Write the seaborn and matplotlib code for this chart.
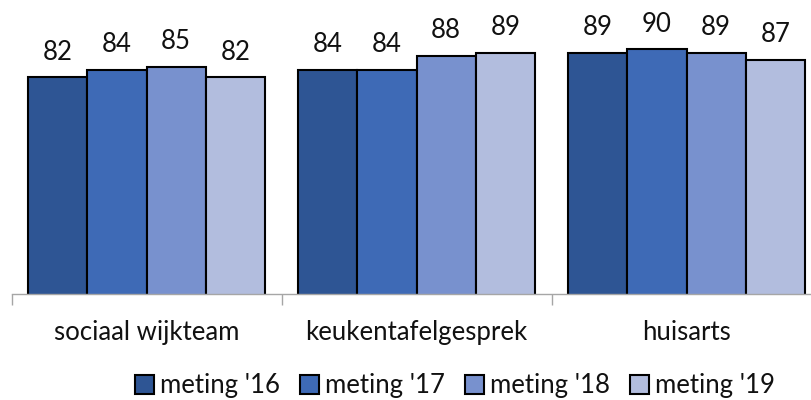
import matplotlib
matplotlib.use("Agg")
import matplotlib.pyplot as plt
import seaborn as sns
import pandas as pd
from matplotlib.patches import Patch

categories = ["sociaal wijkteam", "keukentafelgesprek", "huisarts"]
series = ["meting '16", "meting '17", "meting '18", "meting '19"]
values = {
    "meting '16": [82, 84, 89],
    "meting '17": [84, 84, 90],
    "meting '18": [85, 88, 89],
    "meting '19": [82, 89, 87],
}
colors = ["#2E5594", "#3E6AB6", "#7891CE", "#B2BDDE"]

rows = [(c, s, values[s][i]) for s in series for i, c in enumerate(categories)]
df = pd.DataFrame(rows, columns=["categorie", "meting", "score"])

sns.set_theme(style="white")
plt.rcParams["font.family"] = ["Lato", "DejaVu Sans"]

FS = 18.5
fig = plt.figure(figsize=(8.11, 4.0), dpi=100)
ax = fig.add_axes([11.5 / 811, 106 / 400, 799.5 / 811, 280 / 400])

sns.barplot(data=df, x="categorie", y="score", hue="meting", order=categories,
            hue_order=series, palette=colors, saturation=1, width=0.88,
            edgecolor="black", linewidth=1.5, legend=False, ax=ax)

for cont in ax.containers:
    ax.bar_label(cont, fmt="%d", padding=9, fontsize=FS, color="#111111")

ax.set_ylim(20, 100)
ax.set_xlim(-0.5, 2.461)
ax.set_xlabel("")
ax.set_ylabel("")
ax.set_yticks([])
for side in ["left", "right", "top"]:
    ax.spines[side].set_visible(False)
ax.spines["bottom"].set_color("#A6A6A6")
ax.spines["bottom"].set_linewidth(1.0)

ax.set_xticks([0, 1, 2])
ax.set_xticklabels(categories, fontsize=FS, color="#111111")
ax.tick_params(axis="x", which="major", length=0, pad=19)
ax.set_xticks([-0.5, 0.5, 1.5], minor=True)
ax.tick_params(axis="x", which="minor", length=8, width=1.0, color="#A6A6A6",
               bottom=True)

handles = [Patch(facecolor=c, edgecolor="black", linewidth=1.5) for c in colors]
fig.legend(handles, series, loc="center", bbox_to_anchor=(455 / 811, 1 - 386 / 400),
           ncol=4, frameon=False, fontsize=FS, handlelength=0.75, handleheight=0.75,
           handletextpad=0.25, columnspacing=0.75, labelcolor="#111111")

fig.savefig("out.png", dpi=100)
